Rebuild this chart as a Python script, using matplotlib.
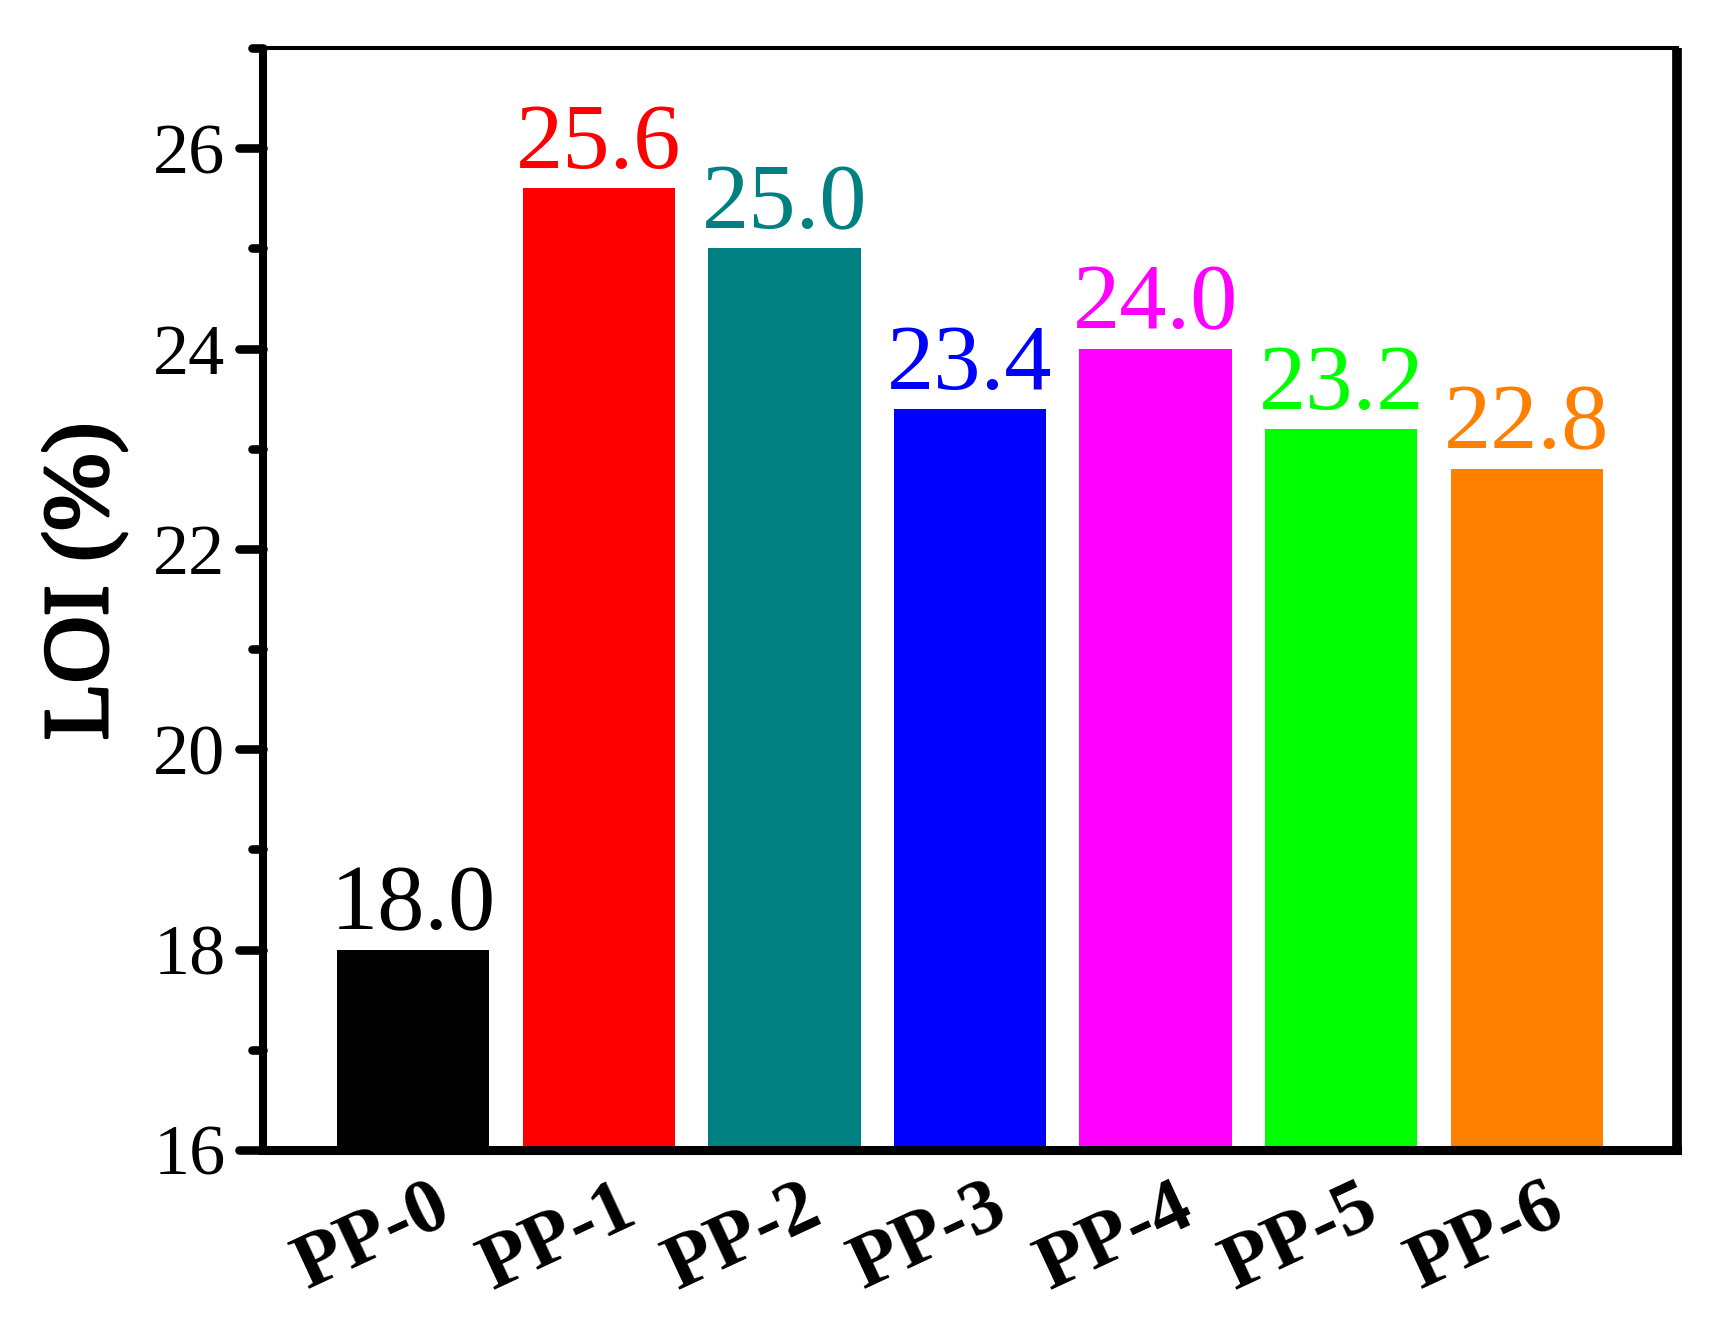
import matplotlib
matplotlib.use("Agg")
import matplotlib.pyplot as plt
from matplotlib.ticker import MultipleLocator
from matplotlib.markers import MarkerStyle
import matplotlib.transforms as mtransforms
import matplotlib.patheffects as pe

categories = ["PP-0", "PP-1", "PP-2", "PP-3", "PP-4", "PP-5", "PP-6"]
loi_values = [18.0, 25.6, 25.0, 23.4, 24.0, 23.2, 22.8]
bar_colors = ["#000000", "#FF0000", "#008080", "#0000FF", "#FF00FF", "#00FF00", "#FF8000"]
ylabel_text = "LOI (%)"

plt.rcParams['font.family'] = ['Liberation Serif', 'DejaVu Serif']

fig = plt.figure(figsize=(17.2, 13.2), dpi=100)
ax = fig.add_axes([0.1529, 0.1288, 0.975 - 0.1529, 0.9636 - 0.1288])

x = list(range(len(categories)))
ax.bar(x, loi_values, width=0.82, color=bar_colors, zorder=2)

ax.set_ylim(16, 27)
ax.set_xlim(-0.81, 6.81)

for xi, v, c in zip(x, loi_values, bar_colors):
    ax.text(xi, v, f"{v:.1f}", color=c, fontsize=68, ha='center', va='bottom')

ax.yaxis.set_major_locator(MultipleLocator(2))
ax.yaxis.set_minor_locator(MultipleLocator(1))
ax.tick_params(axis='y', which='major', direction='out', length=17, width=6.2, labelsize=52, pad=10)
ax.tick_params(axis='y', which='minor', direction='out', length=8, width=6.2)
ax.tick_params(axis='x', which='both', length=0, pad=0)

ax.set_xticks(x)
ax.set_xticklabels(categories, fontsize=57, fontweight='bold', rotation=25,
                   ha='right', va='baseline', rotation_mode='anchor')
offset = mtransforms.ScaledTranslation(0.41, -0.71, fig.dpi_scale_trans)
for lbl in ax.get_xticklabels():
    lbl.set_transform(lbl.get_transform() + offset)

for t in ax.yaxis.get_major_ticks() + ax.yaxis.get_minor_ticks():
    t.tick1line.set_marker(MarkerStyle(t.tick1line.get_marker(), capstyle='round'))

ax.spines['left'].set_linewidth(5.8)
ax.spines['bottom'].set_linewidth(6.5)
ax.spines['right'].set_linewidth(7.0)
ax.spines['top'].set_linewidth(2.9)
ax.spines['left'].set_capstyle('butt')
ax.spines['right'].set_capstyle('butt')
for s in ax.spines.values():
    s.set_zorder(3)

ylab = ax.set_ylabel(ylabel_text, fontsize=67)
ylab.set_path_effects([pe.withStroke(linewidth=2.2, foreground='black')])
ax.yaxis.set_label_coords(-0.0962, 0.516)

fig.savefig("out.png", dpi=100)
